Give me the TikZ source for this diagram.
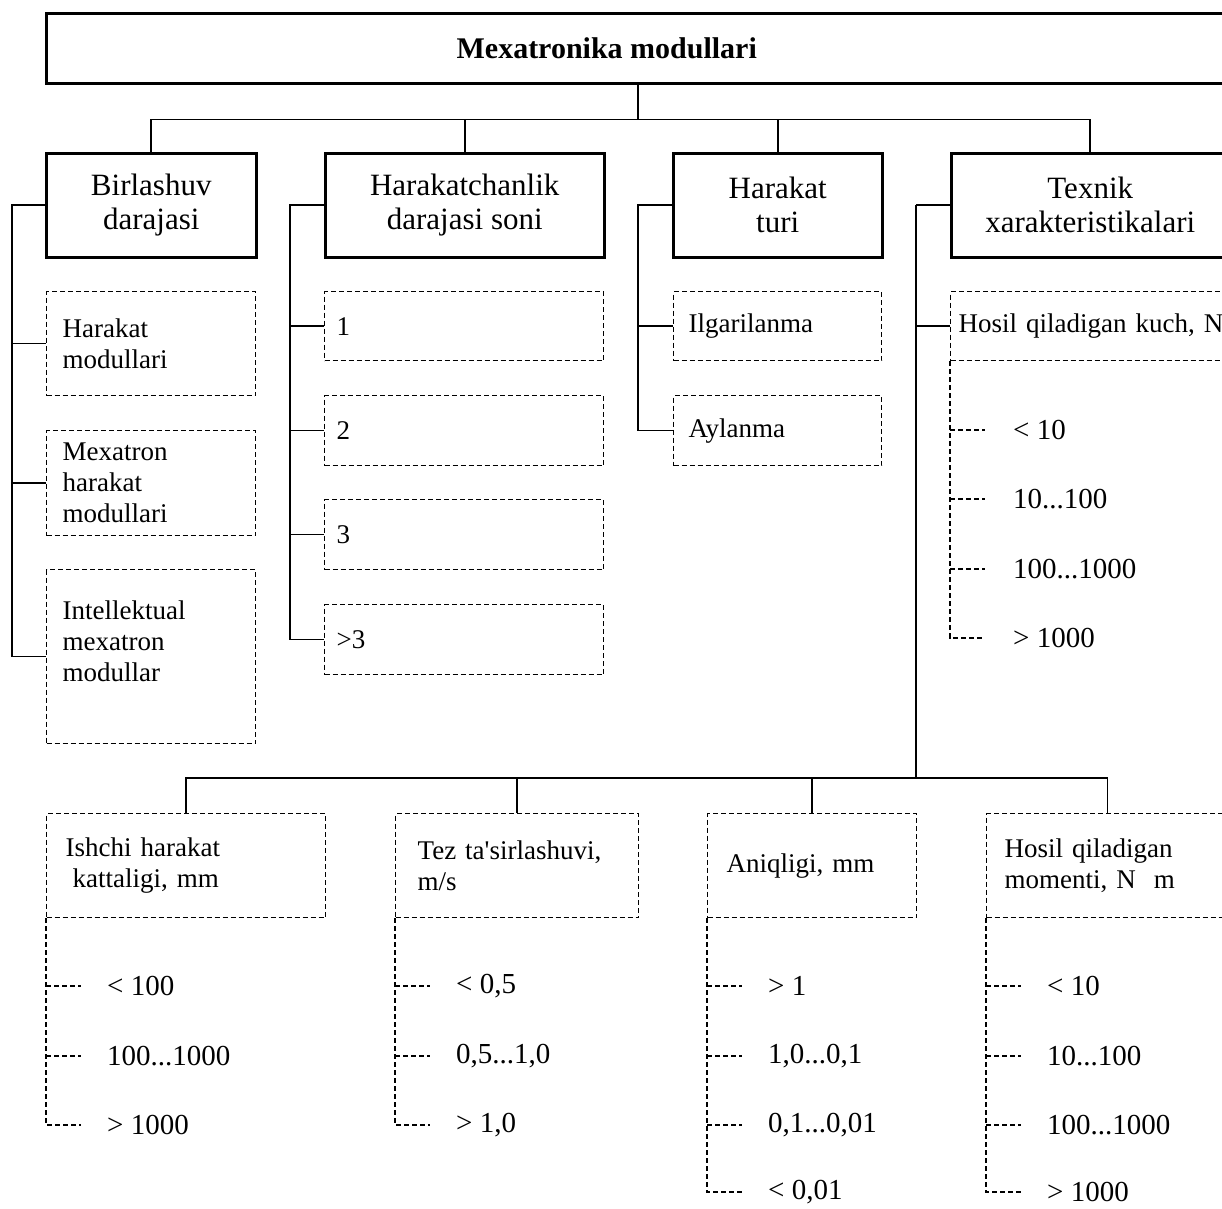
\documentclass[tikz,border=0pt]{standalone}
\usepackage{fontspec}
\setmainfont{Liberation Serif}
\tikzset{
  titlebox/.style={draw, line width=2.5pt, anchor=north west, minimum width=1183pt, minimum height=70pt, font=\fontsize{30}{33}\selectfont\bfseries},
  headbox/.style={draw, line width=2.5pt, anchor=north west, minimum height=104pt, align=center, font=\fontsize{31}{34}\selectfont},
  subbox/.style={draw, line width=1.3pt, dash pattern=on 5pt off 3pt, anchor=north west, align=left, font=\fontsize{27}{31}\selectfont},
  link/.style={line width=1.6pt},
  tick/.style={line width=1.3pt, dash pattern=on 5pt off 3pt},
  item/.style={anchor=west, inner xsep=26pt, inner ysep=0pt, font=\fontsize{29}{32}\selectfont},
}
\begin{document}
\begin{tikzpicture}[x=1pt, y=-1pt]
    \useasboundingbox (0,0) rectangle (1222,1208);
    \clip (0,0) rectangle (1222,1208);

    % top
    \node[titlebox] (title) at (45,12) {Mexatronika modullari\rule{62pt}{0pt}};

    \node[headbox, minimum width=210pt] (birl) at (45,152) {Birlashuv\\darajasi};
    \node[headbox, minimum width=279pt] (harch) at (324,152) {Harakatchanlik\\darajasi soni};
    \node[headbox, minimum width=209pt] (tur) at (672,152) {Harakat\\turi};
    \node[headbox, minimum width=278pt] (tex) at (950,152) {Texnik\\xarakteristikalari};

    \draw[link] (title.south) -- ++(0,35) coordinate (hub);
    \draw[link] (birl.north) |- (hub) -| (tex.north);
    \draw[link] (harch.north) -- (harch.north |- hub);
    \draw[link] (tur.north) -- (tur.north |- hub);

    % birlashuv darajasi
    \node[subbox, minimum height=104pt, text width=177pt, inner xsep=16pt] (harmod) at (46,291) {Harakat\\modullari};
    \node[subbox, minimum height=105pt, text width=177pt, inner xsep=16pt] (mexmod) at (46,430) {Mexatron\\harakat\\modullari};
    \node[subbox, minimum height=174pt, text width=177pt, inner xsep=16pt, text depth=93pt] (intel) at (46,569) {Intellektual\\mexatron\\modullar};

    \draw[link] (birl.west) -- ++(-33,0) coordinate (bl) |- (intel.west);
    \draw[link] (bl |- harmod.west) -- (harmod.west);
    \draw[link] (bl |- mexmod.west) -- (mexmod.west);

    % harakatchanlik darajasi
    \node[subbox, minimum height=69pt, text width=255pt, inner xsep=12pt] (d1) at (324,291) {1};
    \node[subbox, minimum height=70pt, text width=255pt, inner xsep=12pt] (d2) at (324,395) {2};
    \node[subbox, minimum height=70pt, text width=255pt, inner xsep=12pt] (d3) at (324,499) {3};
    \node[subbox, minimum height=70pt, text width=255pt, inner xsep=12pt] (d4) at (324,604) {>3};

    \draw[link] (harch.west) -- ++(-34,0) coordinate (hl) |- (d4.west);
    \draw[link] (hl |- d1.west) -- (d1.west);
    \draw[link] (hl |- d2.west) -- (d2.west);
    \draw[link] (hl |- d3.west) -- (d3.west);

    % harakat turi
    \node[subbox, minimum height=69pt, text width=178pt, inner xsep=15pt] (ilg) at (673,291) {Ilgarilanma};
    \node[subbox, minimum height=70pt, text width=178pt, inner xsep=15pt] (ayl) at (673,395) {Aylanma};

    \draw[link] (tur.west) -- ++(-34,0) coordinate (tl) |- (ayl.west);
    \draw[link] (tl |- ilg.west) -- (ilg.west);

    % texnik xarakteristikalari
    \node[subbox, minimum height=69pt, text width=320pt, inner xsep=8pt] (kuch) at (950,291) {Hosil qiladigan kuch, N};
    \node[item, inner xsep=28pt] (k1) at (985,430) {< 10};
    \node[item, inner xsep=28pt] (k2) at (985,499) {10...100};
    \node[item, inner xsep=28pt] (k3) at (985,569) {100...1000};
    \node[item, inner xsep=28pt] (k4) at (985,638) {> 1000};
    \draw[tick] (kuch.south west) |- (k4.west);
    \draw[tick] (kuch.south west |- k1.west) -- (k1.west);
    \draw[tick] (kuch.south west |- k2.west) -- (k2.west);
    \draw[tick] (kuch.south west |- k3.west) -- (k3.west);

    \draw[link] (tex.west) -- ++(-34,0) coordinate (xl);
    \coordinate (hub2) at (xl |- 0,778);
    \draw[link] (xl) -- (hub2);
    \draw[link] (xl |- kuch.west) -- (kuch.west);

    % bottom row
    \node[subbox, minimum height=104pt, text width=241pt, inner xsep=19pt] (ishchi) at (46,813) {Ishchi harakat\\\hspace*{7pt}kattaligi, mm};
    \node[subbox, minimum height=104pt, text width=199pt, inner xsep=22pt] (tez) at (395,813) {Tez ta\textquotesingle sirlashuvi,\\m/s};
    \node[subbox, minimum height=104pt, text width=171pt, inner xsep=19pt] (aniq) at (707,813) {Aniqligi, mm};
    \node[subbox, minimum height=104pt, text width=206pt, inner xsep=18pt] (moment) at (986,813) {Hosil qiladigan\\momenti, N~~m};

    \draw[link] (ishchi.north) |- (hub2) -| (moment.north);
    \draw[link] (tez.north) -- (tez.north |- hub2);
    \draw[link] (aniq.north) -- (aniq.north |- hub2);

    \node[item] (i1) at (81,986) {< 100};
    \node[item] (i2) at (81,1056) {100...1000};
    \node[item] (i3) at (81,1125) {> 1000};
    \draw[tick] (ishchi.south west) |- (i3.west);
    \draw[tick] (ishchi.south west |- i1.west) -- (i1.west);
    \draw[tick] (ishchi.south west |- i2.west) -- (i2.west);

    \node[item] (t1) at (430,986) {< 0,5};
    \node[item] (t2) at (430,1056) {0,5...1,0};
    \node[item] (t3) at (430,1125) {> 1,0};
    \draw[tick] (tez.south west) |- (t3.west);
    \draw[tick] (tez.south west |- t1.west) -- (t1.west);
    \draw[tick] (tez.south west |- t2.west) -- (t2.west);

    \node[item] (a1) at (742,986) {> 1};
    \node[item] (a2) at (742,1056) {1,0...0,1};
    \node[item] (a3) at (742,1125) {0,1...0,01};
    \node[item] (a4) at (742,1192) {< 0,01};
    \draw[tick] (aniq.south west) |- (a4.west);
    \draw[tick] (aniq.south west |- a1.west) -- (a1.west);
    \draw[tick] (aniq.south west |- a2.west) -- (a2.west);
    \draw[tick] (aniq.south west |- a3.west) -- (a3.west);

    \node[item] (m1) at (1021,986) {< 10};
    \node[item] (m2) at (1021,1056) {10...100};
    \node[item] (m3) at (1021,1125) {100...1000};
    \node[item] (m4) at (1021,1192) {> 1000};
    \draw[tick] (moment.south west) |- (m4.west);
    \draw[tick] (moment.south west |- m1.west) -- (m1.west);
    \draw[tick] (moment.south west |- m2.west) -- (m2.west);
    \draw[tick] (moment.south west |- m3.west) -- (m3.west);
\end{tikzpicture}
\end{document}
